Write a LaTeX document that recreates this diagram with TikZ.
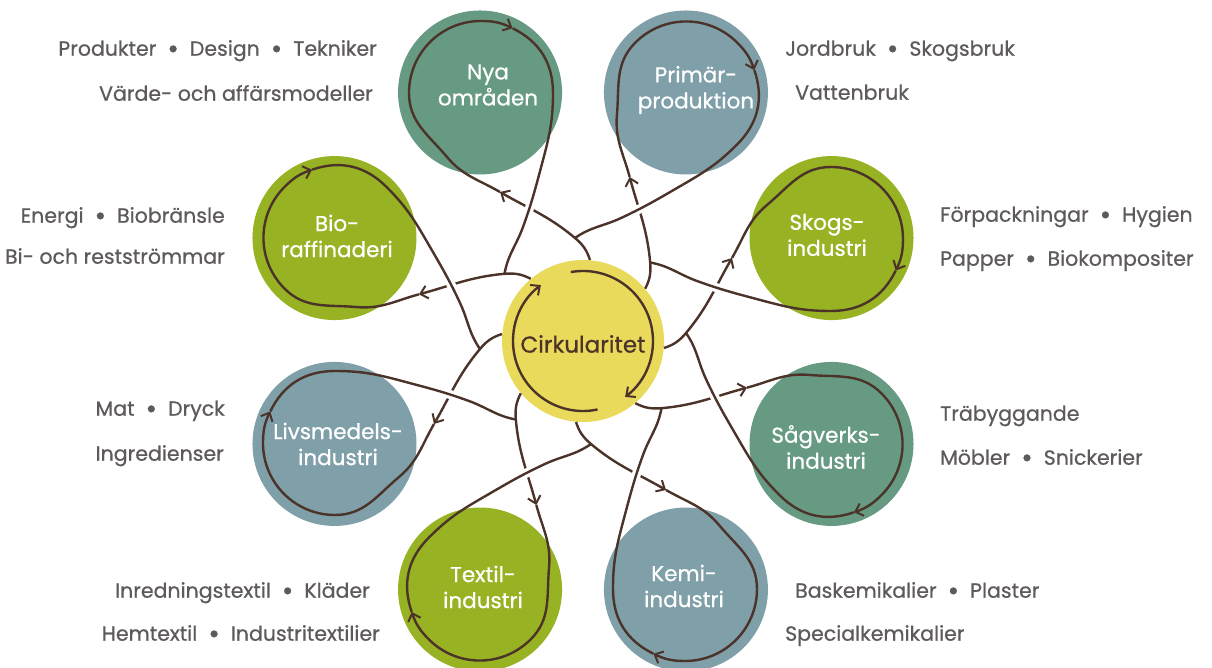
\documentclass[tikz,border=0pt]{standalone}
\usepackage{fontspec}
\setmainfont{Poppins}
\newfontfamily\labfont{Poppins}[FakeBold=0.6]
\newfontfamily\cirfont{Poppins}[FakeBold=0.7]
\usetikzlibrary{arrows.meta}
\definecolor{cteal}{HTML}{679A82}
\definecolor{cblue}{HTML}{7F9FA9}
\definecolor{colive}{HTML}{97B323}
\definecolor{cyellow}{HTML}{E9DA5B}
\definecolor{cbrown}{HTML}{4B3329}
\definecolor{cgray}{HTML}{5E5A5A}
\newcommand\bul{\hspace{11pt}\raisebox{-2.5pt}{\fontsize{28}{24}\selectfont•}\hspace{11pt}}
\tikzset{
  ln/.style={draw=cbrown, line width=2.4pt},
  tipb/.style={-{Straight Barb[length=7pt,width=13pt,line width=2pt]}},
  petalc/.style={circle, minimum size=164pt, inner sep=0pt},
  ctxt/.style={text=white, font=\cirfont\fontsize{21.5}{26}\selectfont, align=center, inner sep=0pt},
  lbl/.style={text=cgray, font=\labfont\fontsize{20.5}{24}\selectfont, inner sep=0pt},
  halo/.style={preaction={draw=white, line width=9pt, shorten >=7pt, shorten <=2pt}}
}
\begin{document}
\begin{tikzpicture}[x=1pt,y=1pt]
\useasboundingbox (-583,-327) rectangle (629,341);
\fill[white] (-583,-327) rectangle (629,341);

% outer circles
\node[petalc, fill=cteal]  (nya)  at (112.5:269) {};
\node[petalc, fill=cblue]  (prim) at (67.5:269) {};
\node[petalc, fill=colive] (skog) at (22.5:269) {};
\node[petalc, fill=cteal]  (sag)  at (-22.5:269) {};
\node[petalc, fill=cblue]  (kemi) at (-67.5:269) {};
\node[petalc, fill=colive] (text) at (-112.5:269) {};
\node[petalc, fill=cblue]  (livs) at (-157.5:269) {};
\node[petalc, fill=colive] (bio)  at (157.5:269) {};

% centre circle
\node[circle, fill=cyellow, minimum size=162pt, inner sep=0pt] (cen) at (0,0) {};
\draw[ln, tipb] (100:70) arc[start angle=100, end angle=-53, radius=70];
\draw[ln, tipb] (-78:70) arc[start angle=-78, end angle=-233, radius=70];
\node[text=cbrown, font=\cirfont\fontsize{23}{26}\selectfont, inner sep=0pt] (cirk) at (0,-3) {Cirkularitet};

% petals: entry and loop
\foreach \k in {0,...,7}{
  \begin{scope}[rotate=-45*\k]
    \draw[ln, tipb] (7,81) to[out=108,in=-40] (-8,103) to[out=140,in=-30] (-83,149);
    \draw[ln, tipb] (-83,149) to[out=150,in=-50] (-136,184) to[out=130,in=-90] (-174,248)
       to[out=90,in=180] (-102,320) to[out=0,in=154] (-70.4,312.7);
    \draw[ln] (-70.4,312.7) to[out=-26,in=90] (-30,248) to[out=-90,in=75] (-40,181);
  \end{scope}
}
% petals: exits passing over the entries
\foreach \k in {0,...,7}{
  \begin{scope}[rotate=-45*\k]
    \draw[ln, halo] (-40,181) to[out=-105,in=70] (-60,114) to[out=-110,in=80] ([rotate=45]-8,103);
  \end{scope}
}

% circle texts
\node[ctxt] (tnya)  at (-95,256) {Nya\\områden};
\node[ctxt] (tprim) at (113,251) {Primär-\\produktion};
\node[ctxt] (tskog) at (244,106) {Skogs-\\industri};
\node[ctxt] (tsag)  at (243,-106) {Sågverks-\\industri};
\node[ctxt] (tkemi) at (101,-245) {Kemi-\\industri};
\node[ctxt] (ttext) at (-100,-246) {Textil-\\industri};
\node[ctxt] (tlivs) at (-245,-103) {Livsmedels-\\industri};
\node[ctxt] (tbio)  at (-246,105) {Bio-\\raffinaderi};

% outer labels
\node[lbl, anchor=mid east] (l1a) at (-206,288) {Produkter\bul Design\bul Tekniker};
\node[lbl, anchor=mid east] (l1b) at (-210,243) {Värde- och affärsmodeller};
\node[lbl, anchor=mid west] (l2a) at (202,288) {Jordbruk\bul Skogsbruk};
\node[lbl, anchor=mid west] (l2b) at (212,244) {Vattenbruk};
\node[lbl, anchor=mid west] (l3a) at (357,122) {Förpackningar\bul Hygien};
\node[lbl, anchor=mid west] (l3b) at (357,78) {Papper\bul Biokompositer};
\node[lbl, anchor=mid west] (l4a) at (357,-77) {Träbyggande};
\node[lbl, anchor=mid west] (l4b) at (357,-121) {Möbler\bul Snickerier};
\node[lbl, anchor=mid west] (l5a) at (212,-254) {Baskemikalier\bul Plaster};
\node[lbl, anchor=mid west] (l5b) at (202,-297) {Specialkemikalier};
\node[lbl, anchor=mid east] (l6a) at (-213,-254) {Inredningstextil\bul Kläder};
\node[lbl, anchor=mid east] (l6b) at (-203,-297) {Hemtextil\bul Industritextilier};
\node[lbl, anchor=mid east] (l7a) at (-358,-72) {Mat\bul Dryck};
\node[lbl, anchor=mid east] (l7b) at (-359,-117) {Ingredienser};
\node[lbl, anchor=mid east] (l8a) at (-358,121) {Energi\bul Biobränsle};
\node[lbl, anchor=mid east] (l8b) at (-358,80) {Bi- och restströmmar};
\end{tikzpicture}
\end{document}
